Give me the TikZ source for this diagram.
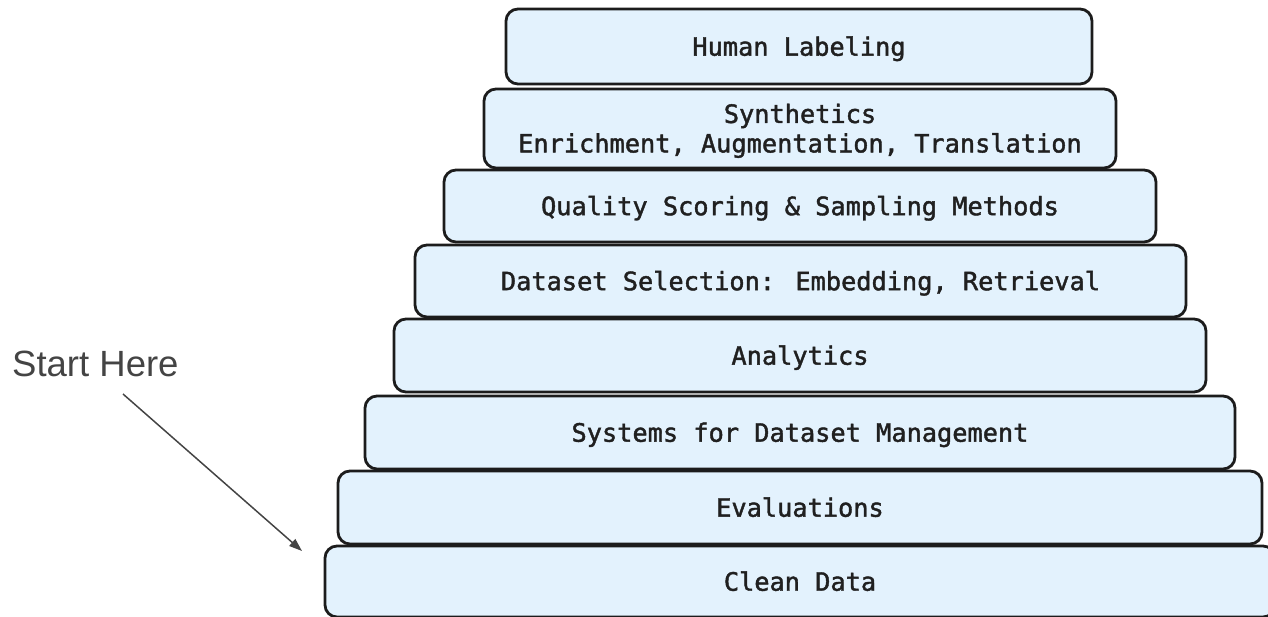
\documentclass[tikz,border=0pt]{standalone}
\usepackage{fontspec}
\usetikzlibrary{arrows.meta}
\newfontfamily\monofont[FakeBold=1.6]{DejaVu Sans Mono}
\newfontfamily\labelfont{Liberation Sans}
\definecolor{tierfill}{HTML}{E3F2FD}
\definecolor{tierline}{HTML}{1C1C1C}
\definecolor{tiertext}{HTML}{202020}
\definecolor{notegray}{HTML}{444444}
\tikzset{
  tier/.style={draw=tierline, line width=2.8pt, fill=tierfill, rounded corners=12pt,
    inner sep=0pt, outer sep=0pt, align=center, text=tiertext,
    text height=18.4pt, text depth=0pt, yshift=-1pt,
    font=\monofont\fontsize{25.3}{29.5}\selectfont},
  twoline/.style={text height=47.9pt},
  note/.style={text=notegray, inner sep=0pt, anchor=west,
    font=\labelfont\fontsize{36.5}{40}\selectfont},
  pointer/.style={draw=notegray, line width=1.5pt, -{Triangle[length=13pt,width=9pt]}}
}
% tier box: style, name, left, top, right, bottom, text
\newcommand{\tierbox}[7][]{%
  \node[tier, #1, minimum width={#5-#3}, minimum height={#6-#4}]
    (#2) at ({(#3+#5)/2},{(#4+#6)/2}) {#7};}
\begin{document}
\begin{tikzpicture}[x=1pt, y=-1pt]
  \useasboundingbox (0,0) rectangle (1268,617);
  \clip (0,0) rectangle (1268,617);
  \tierbox{human}{506}{8}{1092}{83}{Human Labeling}
  \tierbox[twoline]{synth}{484}{88}{1116}{167}{Synthetics\\Enrichment, Augmentation, Translation}
  \tierbox{quality}{444}{169}{1156}{241}{Quality Scoring \& Sampling Methods}
  \tierbox{select}{415}{244}{1186}{316}{Dataset Selection: Embedding, Retrieval}
  \tierbox{analytics}{394}{318}{1206}{391}{Analytics}
  \tierbox{systems}{365}{395}{1235}{468}{Systems for Dataset Management}
  \tierbox{evals}{338}{470}{1262}{543}{Evaluations}
  \tierbox{clean}{325}{545}{1275}{616}{Clean Data}
  \node[note] (start) at (12,364) {Start Here};
  \coordinate (tail) at (123,394);
  \coordinate (head) at (302,551);
  \draw[pointer] (tail) -- (head);
\end{tikzpicture}
\end{document}
